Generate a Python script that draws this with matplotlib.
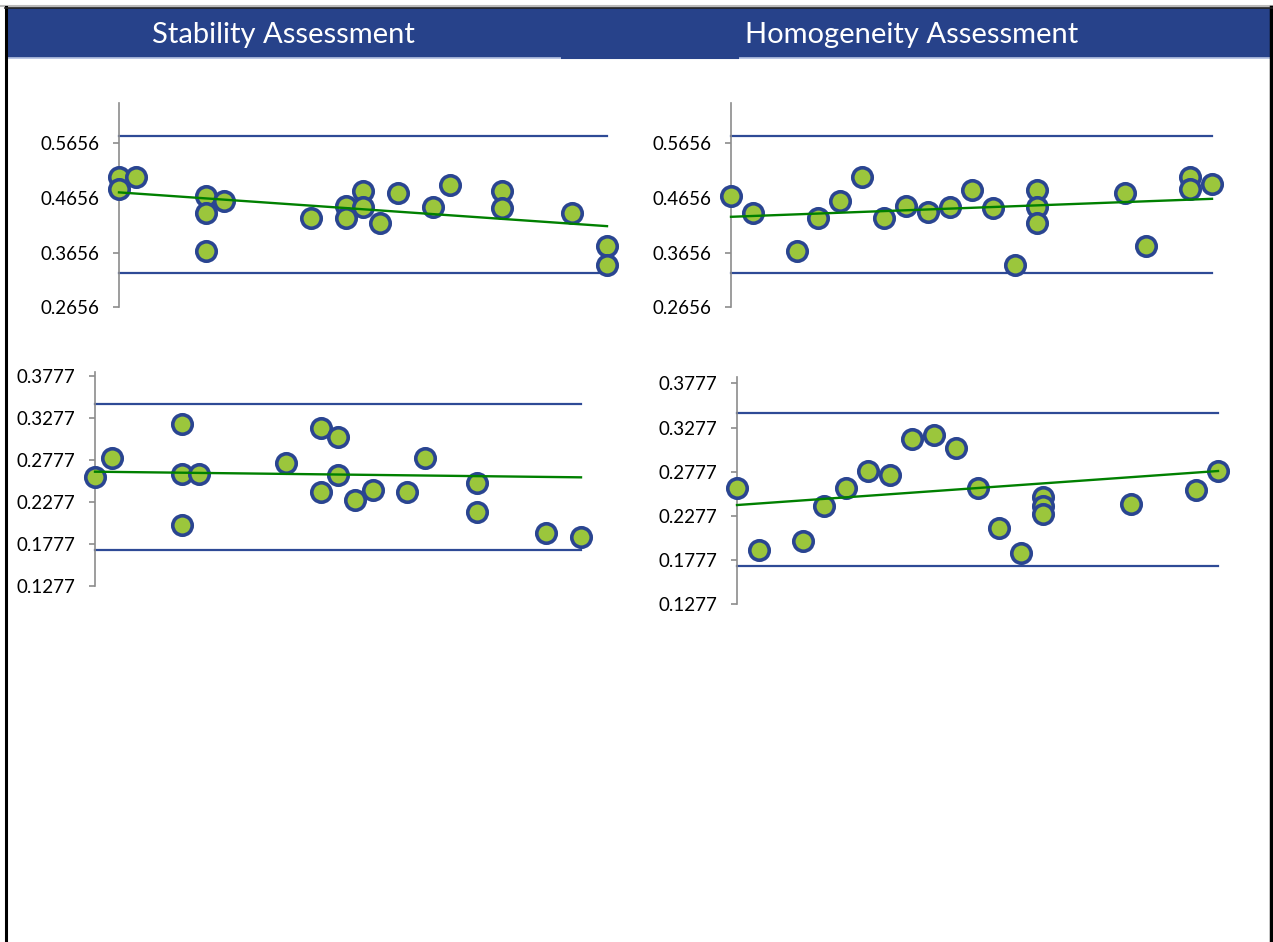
import matplotlib
matplotlib.use("Agg")
import matplotlib.pyplot as plt
from matplotlib.patches import Rectangle
from matplotlib.lines import Line2D

# Stability assessment (upper row: first property, lower row: second property)
stab_x = [0, 0, 1, 5, 5, 5, 6, 11, 13, 13, 14, 14, 15, 16, 18, 19, 22, 22, 26, 28, 28]
stab_y1 = [0.5033, 0.4814, 0.5033, 0.4691, 0.4385, 0.3683, 0.4599, 0.4293, 0.4508,
           0.4293, 0.4788, 0.4484, 0.4191, 0.4751, 0.4495, 0.4892, 0.4788, 0.4466,
           0.4385, 0.3775, 0.3427]
stab_x2 = [0, 1, 5, 5, 5, 6, 11, 13, 13, 14, 14, 15, 16, 18, 19, 22, 22, 26, 28]
stab_y2 = [0.2576, 0.2802, 0.3199, 0.2605, 0.2002, 0.2605, 0.2743, 0.3159, 0.2398,
           0.3045, 0.2597, 0.2299, 0.2418, 0.2398, 0.2795, 0.2505, 0.2153, 0.1904,
           0.1863]

# Homogeneity assessment
homo_x1 = [0, 1, 3, 4, 5, 6, 7, 8, 9, 10, 11, 12, 13, 14, 14, 14, 18, 19, 21, 21, 22]
homo_y1 = [0.4691, 0.4385, 0.3683, 0.4293, 0.4599, 0.5044, 0.4293, 0.4508, 0.4403,
           0.4495, 0.4801, 0.4466, 0.3427, 0.4801, 0.4495, 0.4191, 0.4751, 0.3775,
           0.5033, 0.4814, 0.4911]
homo_x2 = [0, 1, 3, 4, 5, 6, 7, 8, 9, 10, 11, 12, 13, 14, 14, 14, 18, 21, 22]
homo_y2 = [0.2589, 0.1891, 0.1993, 0.2392, 0.2589, 0.2788, 0.2740, 0.3147, 0.3192,
           0.3049, 0.2596, 0.2144, 0.1854, 0.2494, 0.2392, 0.2295, 0.2408, 0.2570,
           0.2785]

# trend line values at first and last position of each panel
trend_stab_1 = (0.4759, 0.4141)
trend_homo_1 = (0.4312, 0.4641)
trend_stab_2 = (0.2636, 0.2569)
trend_homo_2 = (0.2400, 0.2785)

# control limits (upper, lower)
limits_1 = (0.579, 0.3275)
limits_2 = (0.3437, 0.1705)
ticks_1 = [0.2656, 0.3656, 0.4656, 0.5656]
ticks_2 = [0.1277, 0.1777, 0.2277, 0.2777, 0.3277, 0.3777]

titles = ["Stability Assessment", "Homogeneity Assessment"]

HEADER = "#27428A"
NAVY = "#2A4591"
LIMIT = "#2E4A96"
FILL = "#9BC63C"
GREEN = "#008000"
FONT = "Lato"

W, H = 1273, 942


def box(px_left, px_right, px_top, px_bottom):
    return [px_left / W, 1 - px_bottom / H, (px_right - px_left) / W,
            (px_bottom - px_top) / H]


def panel(fig, rect, xs, ys, xmax, trend, limits, ticks, ylim):
    ax = fig.add_axes(rect)
    ax.set_xlim(0, xmax)
    ax.set_ylim(*ylim)
    for v in limits:
        ax.plot([0, xmax], [v, v], color=LIMIT, lw=1.6, clip_on=False, zorder=2)
    ax.plot([0, xmax], trend, color=GREEN, lw=1.7, clip_on=False, zorder=4)
    ax.plot(xs, ys, "o", ms=14, mfc=FILL, mec=NAVY, mew=2.6, clip_on=False, zorder=3)
    for s in ["top", "right", "bottom"]:
        ax.spines[s].set_visible(False)
    ax.spines["left"].set_color("#8C8C8C")
    ax.spines["left"].set_linewidth(1.2)
    ax.set_xticks([])
    ax.set_yticks(ticks)
    ax.set_yticklabels([f"{t:.4f}" for t in ticks], fontsize=13.5, fontname=FONT)
    ax.tick_params(axis="y", length=4, width=1.2, color="#8C8C8C", pad=10)
    ax.patch.set_alpha(0)
    return ax


def main() -> None:
    fig = plt.figure(figsize=(W / 100, H / 100), dpi=100)

    bg = fig.add_axes([0, 0, 1, 1])
    bg.set_xlim(0, W)
    bg.set_ylim(H, 0)
    bg.axis("off")
    bg.add_patch(Rectangle((6, 8), W - 6, 49, color=HEADER, zorder=1))
    bg.add_line(Line2D([6, 562], [57.5, 57.5], color="#B8C4E4", lw=1.2))
    bg.add_line(Line2D([738, W], [57.5, 57.5], color="#B8C4E4", lw=1.2))
    bg.add_line(Line2D([562, 738], [57.5, 57.5], color=HEADER, lw=1.5))
    bg.add_line(Line2D([0, W], [6, 6], color="#BBBBBB", lw=1.5))
    bg.add_line(Line2D([6, 6], [7, H], color="black", lw=2.2))
    bg.add_line(Line2D([1271, 1271], [7, H], color="black", lw=2.5))
    bg.add_line(Line2D([5, W], [7.5, 7.5], color="#222222", lw=1.2))
    bg.text(283, 35, titles[0], color="white", fontsize=21, fontname=FONT,
            ha="center", va="center")
    bg.text(912, 35, titles[1], color="white", fontsize=21, fontname=FONT,
            ha="center", va="center")

    panel(fig, box(119, 607, 102.7, 307.3), stab_x, stab_y1, 28, trend_stab_1,
          limits_1, ticks_1, (0.2656, 0.64))
    panel(fig, box(731, 1212, 102.7, 307.3), homo_x1, homo_y1, 22, trend_homo_1,
          limits_1, ticks_1, (0.2656, 0.64))
    panel(fig, box(95, 581, 371.7, 586), stab_x2, stab_y2, 28, trend_stab_2,
          limits_2, ticks_2, (0.1277, 0.3825))
    panel(fig, box(737, 1218, 376.7, 604.3), homo_x2, homo_y2, 22, trend_homo_2,
          limits_2, ticks_2, (0.1277, 0.3852))

    fig.savefig("out.png", dpi=100)


if __name__ == "__main__":
    main()
